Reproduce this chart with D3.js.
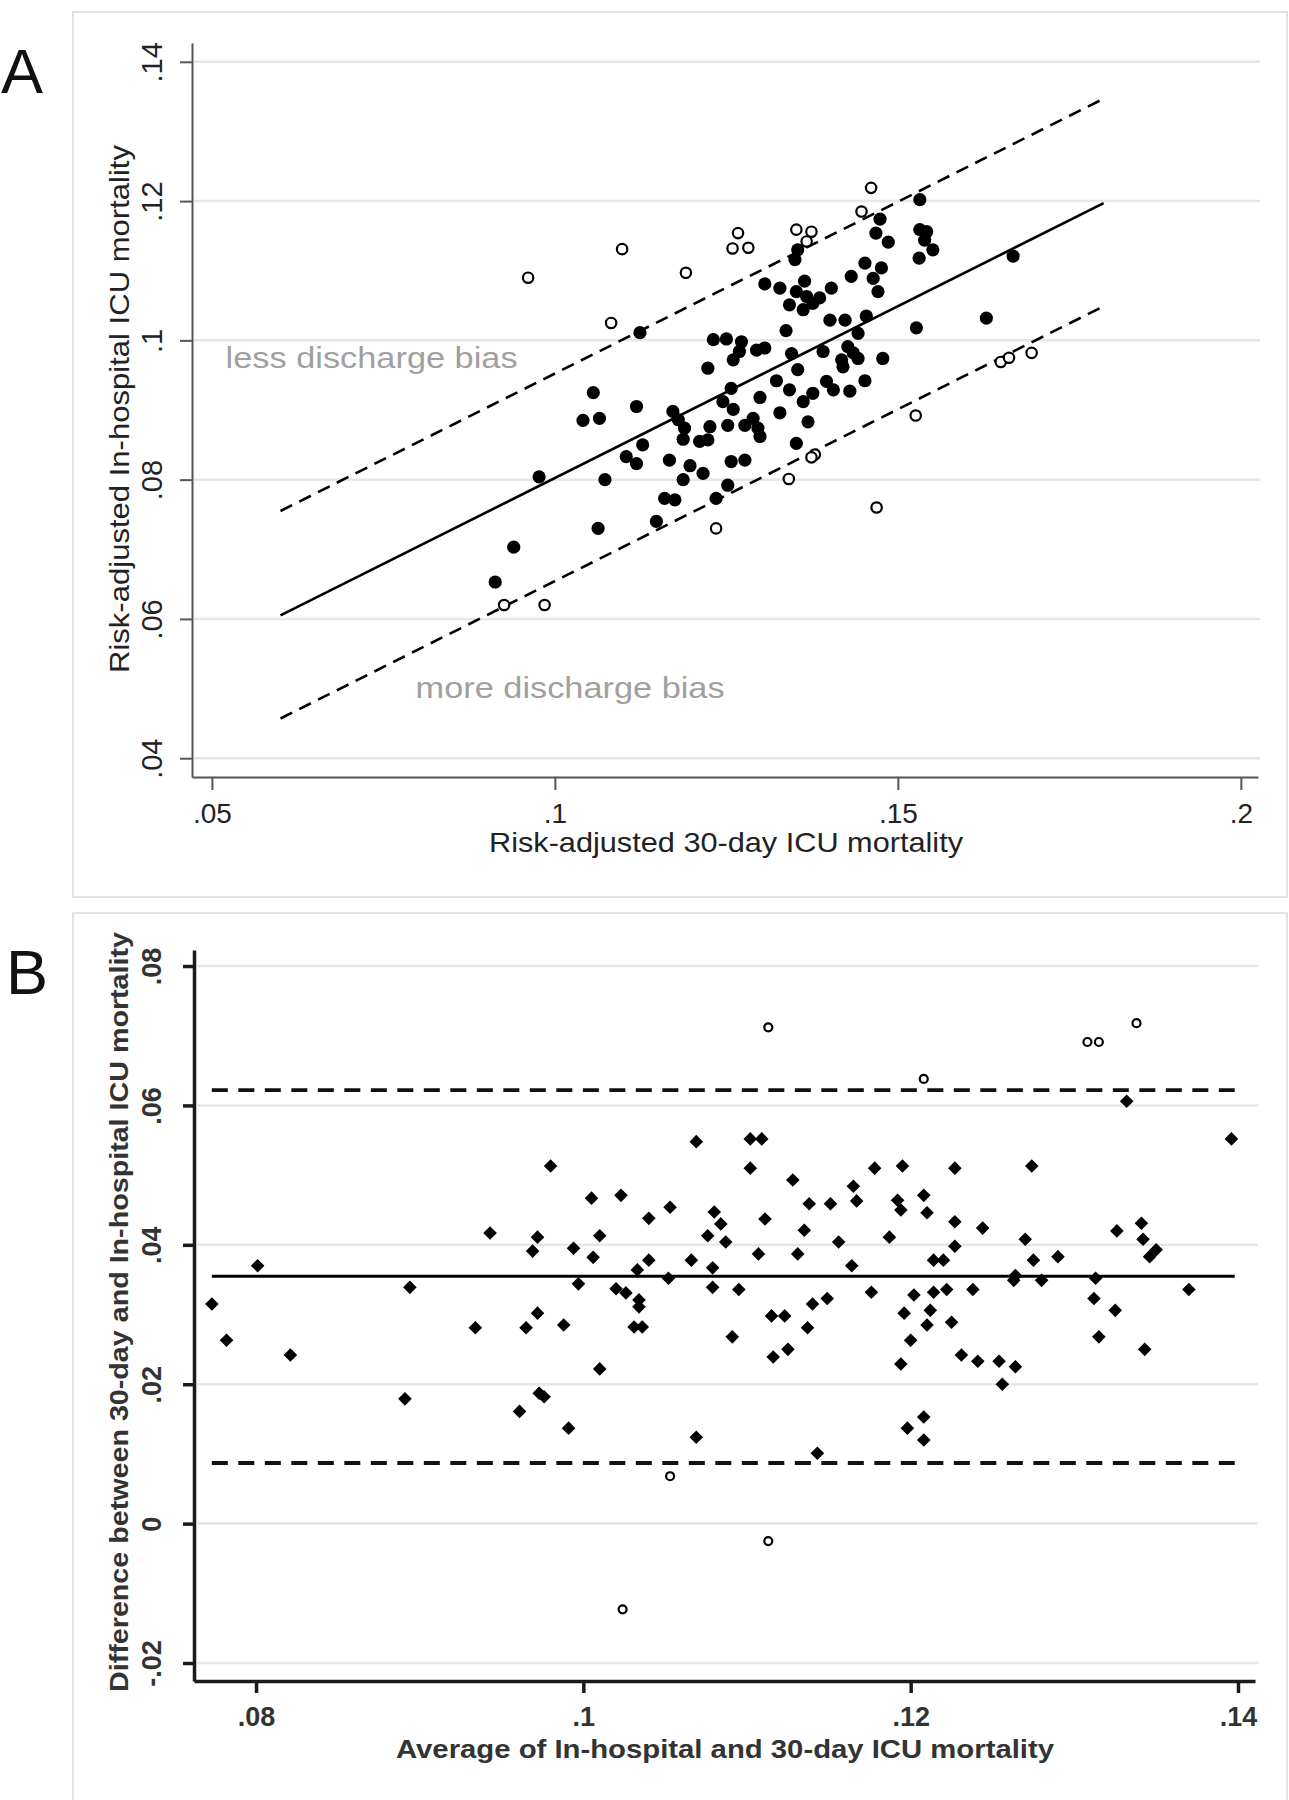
<!DOCTYPE html>
<html><head><meta charset="utf-8">
<script src="https://cdn.jsdelivr.net/npm/d3@7"></script>
<style>
body{margin:0;background:#fff}
svg{display:block}
text{font-family:"Liberation Sans",Arial,sans-serif}
</style>
</head><body>
<svg id="c" width="1289" height="1800"></svg>
<script>
// ---------- Panel A data ----------
const xTicksA = [0.05, 0.1, 0.15, 0.2];
const xTickLabelsA = [".05", ".1", ".15", ".2"];
const yTicksA = [0.04, 0.06, 0.08, 0.1, 0.12, 0.14];
const yTickLabelsA = [".04", ".06", ".08", ".1", ".12", ".14"];
const filledA = [
[0.1532,0.1202],[0.1474,0.1174],[0.1468,0.1154],[0.1486,0.1141],[0.1532,0.1159],[0.1542,0.1156],[0.1539,0.1144],[0.1551,0.1130],[0.1531,0.1118],[0.1354,0.1130],
[0.1350,0.1116],[0.1452,0.1111],[0.1476,0.1104],[0.1432,0.1092],[0.1464,0.1089],[0.1471,0.1070],[0.1306,0.1081],[0.1328,0.1075],[0.1364,0.1085],[0.1352,0.1070],
[0.1367,0.1063],[0.1386,0.1061],[0.1403,0.1075],[0.1342,0.1051],[0.1362,0.1044],[0.1376,0.1053],[0.1401,0.1029],[0.1423,0.1029],[0.1454,0.1035],[0.1442,0.1010],
[0.1527,0.1018],[0.1629,0.1032],[0.1337,0.1014],[0.1231,0.1001],[0.1250,0.1002],[0.1272,0.0998],[0.1294,0.0986],[0.1306,0.0989],[0.1269,0.0984],[0.1260,0.0972],
[0.1223,0.0960],[0.1345,0.0981],[0.1391,0.0984],[0.1427,0.0991],[0.1435,0.0982],[0.1442,0.0974],[0.1418,0.0972],[0.1478,0.0974],[0.1420,0.0962],[0.1354,0.0958],
[0.1056,0.0925],[0.1041,0.0885],[0.1065,0.0888],[0.1119,0.0905],[0.1257,0.0931],[0.1323,0.0942],[0.1342,0.0929],[0.1396,0.0941],[0.1406,0.0929],[0.1430,0.0927],
[0.1452,0.0942],[0.1299,0.0918],[0.1376,0.0924],[0.1362,0.0912],[0.1245,0.0912],[0.1260,0.0901],[0.1172,0.0898],[0.1180,0.0886],[0.1189,0.0874],[0.1187,0.0858],
[0.1211,0.0855],[0.1226,0.0876],[0.1223,0.0857],[0.1252,0.0878],[0.1277,0.0878],[0.1289,0.0888],[0.1296,0.0874],[0.1299,0.0862],[0.1328,0.0896],[0.1369,0.0883],
[0.1352,0.0852],[0.1128,0.0850],[0.1104,0.0833],[0.1119,0.0823],[0.1167,0.0828],[0.1197,0.0820],[0.1216,0.0809],[0.1187,0.0800],[0.1257,0.0826],[0.1277,0.0828],
[0.1073,0.0800],[0.1252,0.0792],[0.1160,0.0773],[0.1175,0.0771],[0.1235,0.0773],[0.1148,0.0740],[0.1063,0.0730],[0.1124,0.1011],[0.0913,0.0653],[0.0940,0.0703],
[0.0977,0.0804],[0.1668,0.1121]
];
const hollowA = [
[0.0926,0.0620],[0.0985,0.0620],[0.0961,0.1090],[0.1098,0.1131],[0.1082,0.1025],[0.1191,0.1097],[0.1267,0.1154],[0.1259,0.1132],[0.1282,0.1133],[0.1352,0.1159],
[0.1374,0.1156],[0.1367,0.1142],[0.1447,0.1185],[0.1461,0.1219],[0.1526,0.0892],[0.1379,0.0836],[0.1374,0.0832],[0.1341,0.0801],[0.1469,0.0760],[0.1235,0.0730],
[0.1650,0.0969],[0.1662,0.0975],[0.1695,0.0982]
];
const fitX = [0.06, 0.18];
const fitY = [0.0605, 0.1197];
const upperY = [0.0755, 0.1347];
const lowerY = [0.0457, 0.1049];
const annotationsA = [
  {text:"less discharge bias", x:0.0520, y:0.0960, len:292},
  {text:"more discharge bias", x:0.0797, y:0.0486, len:309}
];

// ---------- Panel B data ----------
const xTicksB = [0.08, 0.1, 0.12, 0.14];
const xTickLabelsB = [".08", ".1", ".12", ".14"];
const yTicksB = [-0.02, 0, 0.02, 0.04, 0.06, 0.08];
const yTickLabelsB = ["-.02", "0", ".02", ".04", ".06", ".08"];
const filledB = [
[0.0773,0.0315],[0.0782,0.0263],[0.0801,0.0370],[0.0821,0.0242],[0.0894,0.0339],[0.0891,0.0179],[0.0934,0.0281],[0.0943,0.0417],[0.0961,0.0161],[0.0965,0.0281],
[0.0969,0.0391],[0.0972,0.0302],[0.0972,0.0411],[0.0973,0.0187],[0.0976,0.0182],[0.0980,0.0513],[0.0988,0.0285],[0.0991,0.0137],[0.0994,0.0395],[0.0997,0.0344],
[0.1005,0.0467],[0.1006,0.0382],[0.1010,0.0413],[0.1010,0.0222],[0.1020,0.0337],[0.1023,0.0471],[0.1026,0.0331],[0.1033,0.0364],[0.1034,0.0321],[0.1034,0.0311],
[0.1031,0.0282],[0.1036,0.0282],[0.1040,0.0438],[0.1040,0.0378],[0.1332,0.0606],[0.1396,0.0552],[0.1069,0.0548],[0.1102,0.0552],[0.1109,0.0552],[0.1102,0.0510],
[0.1128,0.0493],[0.1178,0.0510],[0.1195,0.0513],[0.1227,0.0510],[0.1274,0.0513],[0.1165,0.0484],[0.1167,0.0463],[0.1192,0.0464],[0.1194,0.0450],[0.1208,0.0471],
[0.1210,0.0446],[0.1138,0.0459],[0.1151,0.0459],[0.1053,0.0454],[0.1080,0.0447],[0.1084,0.0430],[0.1076,0.0413],[0.1087,0.0404],[0.1111,0.0437],[0.1135,0.0421],
[0.1107,0.0387],[0.1131,0.0387],[0.1156,0.0404],[0.1187,0.0411],[0.1227,0.0433],[0.1227,0.0398],[0.1244,0.0424],[0.1270,0.0408],[0.1275,0.0378],[0.1290,0.0383],
[0.1326,0.0420],[0.1341,0.0431],[0.1342,0.0408],[0.1346,0.0383],[0.1350,0.0393],[0.1066,0.0378],[0.1079,0.0367],[0.1164,0.0370],[0.1214,0.0378],[0.1220,0.0378],
[0.1052,0.0352],[0.1264,0.0356],[0.1263,0.0349],[0.1280,0.0349],[0.1313,0.0352],[0.1079,0.0339],[0.1095,0.0336],[0.1176,0.0332],[0.1202,0.0328],[0.1214,0.0332],
[0.1222,0.0336],[0.1238,0.0336],[0.1370,0.0336],[0.1312,0.0323],[0.1149,0.0323],[0.1140,0.0315],[0.1325,0.0306],[0.1115,0.0298],[0.1123,0.0298],[0.1196,0.0302],
[0.1212,0.0306],[0.1225,0.0289],[0.1137,0.0281],[0.1210,0.0285],[0.1091,0.0268],[0.1200,0.0263],[0.1315,0.0268],[0.1116,0.0239],[0.1125,0.0250],[0.1194,0.0229],
[0.1231,0.0242],[0.1241,0.0233],[0.1254,0.0233],[0.1264,0.0225],[0.1256,0.0200],[0.1343,0.0250],[0.1069,0.0124],[0.1143,0.0101],[0.1198,0.0137],[0.1208,0.0153],
[0.1208,0.0120]
];
const hollowB = [
[0.1024,-0.0123],[0.1113,0.0712],[0.1208,0.0638],[0.1308,0.0691],[0.1315,0.0691],[0.1338,0.0718],[0.1053,0.0068],[0.1113,-0.0025]
];
const meanDiff = 0.0355;
const upperLoA = 0.0622;
const lowerLoA = 0.0087;
const refXRangeB = [0.0773, 0.1398];

// ---------- drawing ----------
const svg = d3.select("#c");
svg.append("rect").attr("width",1289).attr("height",1800).attr("fill","#fff");

// panel frames
svg.append("rect").attr("x",73).attr("y",12).attr("width",1214).attr("height",885)
  .attr("fill","none").attr("stroke","#e2e2e2").attr("stroke-width",2);
svg.append("rect").attr("x",73).attr("y",913).attr("width",1214).attr("height",900)
  .attr("fill","none").attr("stroke","#e2e2e2").attr("stroke-width",2);

// panel letters
svg.append("text").attr("x",1).attr("y",93).attr("font-size",63).attr("fill","#111").text("A");
svg.append("text").attr("x",6).attr("y",994).attr("font-size",63).attr("fill","#111").text("B");

function styleAxis(g, color, width, fontSize, weight, fill){
  g.attr("font-size",null).attr("font-family",null);
  g.select(".domain").attr("stroke",color).attr("stroke-width",width);
  g.selectAll(".tick line").attr("stroke",color).attr("stroke-width",width);
  g.selectAll(".tick text").attr("font-size",fontSize).attr("font-weight",weight).attr("fill",fill);
}

// ===== Panel A =====
const xA = d3.scaleLinear().domain([0.0471,0.2025]).range([192,1258]);
const yA = d3.scaleLinear().domain([0.0373,0.1427]).range([777,43]);
const gA = svg.append("g");

gA.append("g").selectAll("line").data(yTicksA).join("line")
  .attr("x1",xA.range()[0]+2).attr("x2",1260)
  .attr("y1",d=>yA(d)).attr("y2",d=>yA(d))
  .attr("stroke","#e6e6e6").attr("stroke-width",2.5);

const axAx = gA.append("g").attr("transform",`translate(0,${yA.range()[0]})`)
  .call(d3.axisBottom(xA).tickValues(xTicksA).tickFormat((d,i)=>xTickLabelsA[i]).tickSize(13).tickSizeOuter(0));
styleAxis(axAx,"#555",2,28,"normal","#222");
axAx.selectAll(".tick text").attr("y",46).attr("dy",0);

const axAy = gA.append("g").attr("transform",`translate(${xA.range()[0]},0)`)
  .call(d3.axisLeft(yA).tickValues(yTicksA).tickFormat((d,i)=>yTickLabelsA[i]).tickSize(12).tickSizeOuter(0));
styleAxis(axAy,"#555",2,29,"normal","#222");
axAy.selectAll(".tick text").attr("transform","rotate(-90)").attr("x",0).attr("y",-30).attr("dy",0).attr("text-anchor","middle");

// fit lines
const lineA = d3.line().x(d=>xA(d[0])).y(d=>yA(d[1]));
gA.append("path").attr("d",lineA(fitX.map((x,i)=>[x,fitY[i]]))).attr("fill","none").attr("stroke","#000").attr("stroke-width",2.6);
gA.append("path").attr("d",lineA(fitX.map((x,i)=>[x,upperY[i]]))).attr("fill","none").attr("stroke","#000").attr("stroke-width",2.6).attr("stroke-dasharray","13,8");
gA.append("path").attr("d",lineA(fitX.map((x,i)=>[x,lowerY[i]]))).attr("fill","none").attr("stroke","#000").attr("stroke-width",2.6).attr("stroke-dasharray","13,8");

gA.append("g").selectAll("circle").data(hollowA).join("circle")
  .attr("cx",d=>xA(d[0])).attr("cy",d=>yA(d[1])).attr("r",5.2)
  .attr("fill","#fff").attr("stroke","#000").attr("stroke-width",2.2);
gA.append("g").selectAll("circle").data(filledA).join("circle")
  .attr("cx",d=>xA(d[0])).attr("cy",d=>yA(d[1])).attr("r",6.6).attr("fill","#000");

gA.append("g").selectAll("text").data(annotationsA).join("text")
  .attr("x",d=>xA(d.x)).attr("y",d=>yA(d.y)).attr("font-size",29).attr("fill","#a0a0a0")
  .attr("textLength",d=>d.len).attr("lengthAdjust","spacingAndGlyphs").text(d=>d.text);

gA.append("text").attr("x",489).attr("y",852).attr("font-size",28).attr("fill","#222")
  .attr("textLength",474).attr("lengthAdjust","spacingAndGlyphs").text("Risk-adjusted 30-day ICU mortality");
gA.append("text").attr("transform","translate(129,673) rotate(-90)").attr("font-size",28).attr("fill","#222")
  .attr("textLength",528).attr("lengthAdjust","spacingAndGlyphs").text("Risk-adjusted In-hospital ICU mortality");

// ===== Panel B =====
const xB = d3.scaleLinear().domain([0.07621,0.14104]).range([194,1255]);
const yB = d3.scaleLinear().domain([-0.02258,0.0823]).range([1681,950]);
const gB = svg.append("g");

gB.append("g").selectAll("line").data(yTicksB).join("line")
  .attr("x1",xB.range()[0]+3).attr("x2",1258)
  .attr("y1",d=>yB(d)).attr("y2",d=>yB(d))
  .attr("stroke","#e6e6e6").attr("stroke-width",2.5);

const axBx = gB.append("g").attr("transform",`translate(0,${yB.range()[0]})`)
  .call(d3.axisBottom(xB).tickValues(xTicksB).tickFormat((d,i)=>xTickLabelsB[i]).tickSize(12).tickSizeOuter(0));
styleAxis(axBx,"#1a1a1a",3.5,27,"bold","#333");
axBx.selectAll(".tick text").attr("y",45).attr("dy",0);

const axBy = gB.append("g").attr("transform",`translate(${xB.range()[0]},0)`)
  .call(d3.axisLeft(yB).tickValues(yTicksB).tickFormat((d,i)=>yTickLabelsB[i]).tickSize(11).tickSizeOuter(0));
styleAxis(axBy,"#1a1a1a",3.5,27,"bold","#333");
axBy.selectAll(".tick text").attr("transform","rotate(-90)").attr("x",0).attr("y",-33).attr("dy",0).attr("text-anchor","middle");

const lineB = d3.line().x(d=>xB(d[0])).y(d=>yB(d[1]));
gB.append("path").attr("d",lineB(refXRangeB.map(x=>[x,meanDiff]))).attr("fill","none").attr("stroke","#000").attr("stroke-width",3);
gB.append("path").attr("d",lineB(refXRangeB.map(x=>[x,upperLoA]))).attr("fill","none").attr("stroke","#111").attr("stroke-width",3.8).attr("stroke-dasharray","16,10.5");
gB.append("path").attr("d",lineB(refXRangeB.map(x=>[x,lowerLoA]))).attr("fill","none").attr("stroke","#111").attr("stroke-width",3.8).attr("stroke-dasharray","16,10.5");

gB.append("g").selectAll("circle").data(hollowB).join("circle")
  .attr("cx",d=>xB(d[0])).attr("cy",d=>yB(d[1])).attr("r",4)
  .attr("fill","#fff").attr("stroke","#000").attr("stroke-width",2.2);
const dia = "M0,-6.8L6.8,0L0,6.8L-6.8,0Z";
gB.append("g").selectAll("path").data(filledB).join("path")
  .attr("transform",d=>`translate(${xB(d[0])},${yB(d[1])})`).attr("d",dia).attr("fill","#000");

gB.append("text").attr("x",396).attr("y",1758).attr("font-size",25).attr("font-weight","bold").attr("fill","#333")
  .attr("textLength",658).attr("lengthAdjust","spacingAndGlyphs").text("Average of In-hospital and 30-day ICU mortality");
gB.append("text").attr("transform","translate(128,1692) rotate(-90)").attr("font-size",25).attr("font-weight","bold").attr("fill","#333")
  .attr("textLength",760).attr("lengthAdjust","spacingAndGlyphs").text("Difference between 30-day and In-hospital ICU mortality");
</script>
</body></html>
